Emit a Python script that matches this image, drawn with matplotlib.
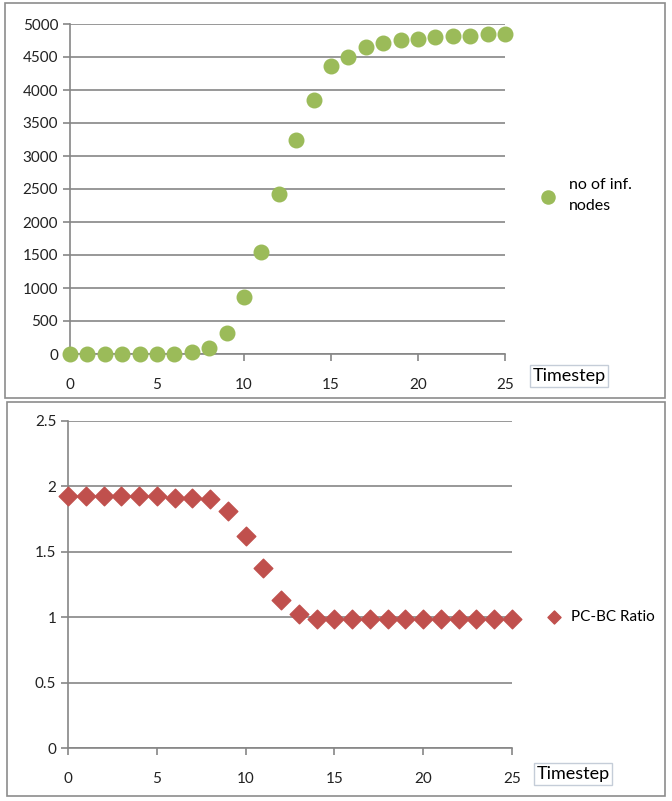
import matplotlib.pyplot as plt
from matplotlib.patches import Rectangle

# data
timestep = list(range(26))
inf_nodes = [0, 0, 5, 5, 5, 5, 5, 35, 96, 323, 862, 1550, 2424, 3237, 3843,
             4360, 4505, 4656, 4717, 4752, 4778, 4798, 4823, 4823, 4848, 4848]
pc_bc_ratio = [1.924, 1.924, 1.924, 1.924, 1.924, 1.924, 1.914, 1.914, 1.904,
               1.813, 1.624, 1.374, 1.134, 1.023] + [0.987] * 12
top_yticks = list(range(0, 5001, 500))
bottom_yticks = [0, 0.5, 1, 1.5, 2, 2.5]
bottom_yticklabels = ['0', '0.5', '1', '1.5', '2', '2.5']
xticks = [0, 5, 10, 15, 20, 25]

plt.rcParams['font.family'] = ['Lato', 'DejaVu Sans']
grey = '#868686'
green = '#9bbb59'
red = '#c0504d'

W, H = 672, 801
fig = plt.figure(figsize=(W / 100, H / 100), dpi=100)


def fx(px):
    return px / W


def fy(py):
    return 1 - py / H


def style(ax):
    for s in ['top', 'right']:
        ax.spines[s].set_visible(False)
    for s in ['left', 'bottom']:
        ax.spines[s].set_color(grey)
        ax.spines[s].set_linewidth(1.2)
    ax.grid(axis='y', color=grey, linewidth=1.2)
    ax.set_axisbelow(True)
    ax.tick_params(colors=grey, labelcolor='#222222', labelsize=11,
                   length=5, width=1.2)
    ax.tick_params(axis='x', pad=12)
    ax.set_xticks(xticks)
    ax.set_xlim(0, 25)


# panel borders
fig.add_artist(Rectangle((fx(5), fy(398)), fx(660), 395 / H, transform=fig.transFigure,
                         fill=False, edgecolor='#8c8c8c', linewidth=1.2))
fig.add_artist(Rectangle((fx(7), fy(796)), fx(658), 394 / H, transform=fig.transFigure,
                         fill=False, edgecolor='#8c8c8c', linewidth=1.2))

# top chart
ax1 = fig.add_axes([fx(70), fy(354), fx(505 - 70), (354 - 24) / H])
ax1.scatter(timestep, inf_nodes, s=110, color=green, zorder=3, clip_on=False,
            label='no of inf.\nnodes')
ax1.set_ylim(0, 5000)
ax1.set_yticks(top_yticks)
style(ax1)
leg1 = ax1.legend(loc='center left', bbox_to_anchor=(1.03, 0.48), frameon=False,
                  fontsize=11.5, handletextpad=0.3, markerscale=0.9)
leg1.get_texts()[0].set_linespacing(1.7)
fig.text(fx(569), fy(376), 'Timestep', fontsize=13, ha='center', va='center',
         bbox=dict(boxstyle='square,pad=0.15', facecolor='white', edgecolor='#c5cdd8'))

# bottom chart
ax2 = fig.add_axes([fx(68), fy(748), fx(512 - 68), (748 - 421) / H])
ax2.scatter(timestep, pc_bc_ratio, s=90, marker='D', color=red, zorder=3, clip_on=False,
            label='PC-BC Ratio')
ax2.set_ylim(0, 2.5)
ax2.set_yticks(bottom_yticks)
ax2.set_yticklabels(bottom_yticklabels)
style(ax2)
ax2.legend(loc='center left', bbox_to_anchor=(1.03, 0.40), frameon=False,
           fontsize=11, handletextpad=0.1, markerscale=0.7)
fig.text(fx(573), fy(774), 'Timestep', fontsize=13, ha='center', va='center',
         bbox=dict(boxstyle='square,pad=0.15', facecolor='white', edgecolor='#c5cdd8'))

fig.savefig('out.png', dpi=100)
